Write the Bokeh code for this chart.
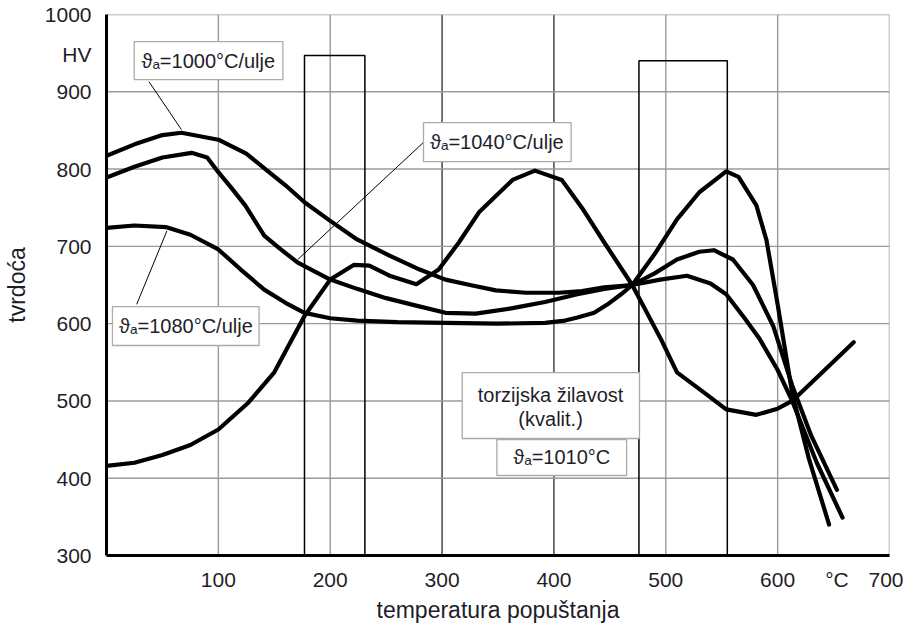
import math
from bokeh.plotting import figure
from bokeh.models import FixedTicker, Title
from bokeh.embed import file_html
from bokeh.resources import INLINE
from bokeh.core.properties import value

# ---------------- data ----------------
x_ticks = [100, 200, 300, 400, 500, 600, 653, 700]
x_tick_labels = {653: "°C"}
y_ticks = [300, 400, 500, 600, 700, 800, 900, 948, 1000]
y_tick_labels = {948: "HV"}

grid_x_light = [100, 200, 500, 600, 700]
grid_x_dark = [300, 400]
grid_y = [400, 500, 600, 700, 800, 900, 1000]

# qualitative bars (tempering ranges)
bar_left = [177, 476]
bar_right = [231, 555]
bar_top = [947, 940]

temp_1000 = [0, 25, 50, 67, 100, 125, 142, 160, 177, 200, 224, 253, 280, 303, 325, 348, 375, 404,
             425, 445, 470, 495, 519, 540, 554, 570, 584, 600, 613, 635, 658]
hv_1000 = [817, 832, 844, 847, 838, 820, 800, 779, 757, 733, 709, 688, 670, 657, 650, 643, 640, 640,
           642, 647, 650, 657, 662, 652, 638, 608, 580, 540, 500, 420, 349]

temp_1040 = [0, 25, 50, 76, 90, 100, 112, 124, 141, 155, 171, 200, 224, 250, 275, 303, 330, 363, 392,
             421, 445, 470, 490, 510, 530, 543, 560, 578, 596, 613, 630, 653]
hv_1040 = [789, 803, 815, 821, 815, 796, 775, 753, 714, 697, 679, 657, 645, 633, 624, 614, 613, 620, 628,
           638, 645, 650, 665, 683, 693, 695, 683, 650, 597, 520, 455, 385]

temp_1080 = [0, 25, 53, 75, 100, 120, 141, 160, 177, 200, 224, 260, 303, 350, 392, 410, 421, 436, 448,
             460, 470, 490, 510, 530, 554, 565, 581, 590, 600, 613, 628, 646]
hv_1080 = [724, 727, 725, 715, 696, 670, 644, 627, 614, 607, 604, 602, 601, 600, 601, 604, 608, 614, 625,
           638, 650, 690, 735, 770, 797, 790, 753, 708, 625, 510, 425, 340]

temp_tors = [0, 25, 50, 75, 100, 127, 150, 177, 200, 221, 235, 253, 277, 297, 315, 333, 363, 383, 407,
             425, 445, 470, 496, 510, 534, 554, 581, 600, 613, 640, 668]
val_tors = [416, 420, 430, 443, 463, 498, 537, 610, 657, 676, 675, 662, 651, 670, 705, 744, 786, 798, 786,
            750, 705, 650, 579, 537, 511, 489, 482, 490, 500, 537, 576]

# ---------------- figure ----------------
FONT = "Liberation Sans"
TXT = "#1e1e2a"

p = figure(width=903, height=627, x_range=(0, 700), y_range=(300, 1000),
           output_backend="svg", toolbar_location=None,
           min_border_left=99, min_border_right=14, min_border_top=14, min_border_bottom=72)
p.grid.visible = False
p.outline_line_color = None
p.background_fill_color = "white"

for ax in (p.xaxis, p.yaxis):
    ax.axis_line_width = 3
    ax.axis_line_color = "black"
    ax.major_tick_line_color = None
    ax.minor_tick_line_color = None
    ax.major_tick_in = 0
    ax.major_tick_out = 0
    ax.major_label_text_font = FONT
    ax.major_label_text_font_size = "21px"
    ax.major_label_text_color = TXT

p.xaxis.ticker = FixedTicker(ticks=x_ticks)
p.xaxis.major_label_overrides = x_tick_labels
p.xaxis.major_label_standoff = 12
p.yaxis.ticker = FixedTicker(ticks=y_ticks)
p.yaxis.major_label_overrides = y_tick_labels
p.yaxis.major_label_standoff = 15

p.yaxis.axis_label = "tvrdoća"
p.yaxis.axis_label_text_font = FONT
p.yaxis.axis_label_text_font_size = "23px"
p.yaxis.axis_label_text_font_style = "normal"
p.yaxis.axis_label_text_color = TXT
p.yaxis.axis_label_standoff = 12

p.add_layout(Title(text="temperatura popuštanja", align="center", offset=35, standoff=2,
                   text_font=FONT, text_font_size="23px", text_font_style="normal",
                   text_color=TXT), "below")

# grid
p.segment(x0=grid_x_light, y0=[300] * len(grid_x_light), x1=grid_x_light, y1=[1000] * len(grid_x_light),
          line_color="#9a9a9a", line_width=1.4)
p.segment(x0=grid_x_dark, y0=[300] * len(grid_x_dark), x1=grid_x_dark, y1=[1000] * len(grid_x_dark),
          line_color="#2a2a2a", line_width=1.3)
p.segment(x0=[0] * len(grid_y), y0=grid_y, x1=[700] * len(grid_y), y1=grid_y,
          line_color="#9a9a9a", line_width=1.4)

# bars
p.quad(left=bar_left, right=bar_right, bottom=[300] * len(bar_left), top=bar_top,
       fill_color=None, line_color="black", line_width=1.5)

# pointer lines
p.segment(x0=[38, 283, 27], y0=[913, 834, 625], x1=[67, 171, 54], y1=[851, 683, 720],
          line_color="black", line_width=1)

# curves
for xs, ys in ((temp_1000, hv_1000), (temp_1040, hv_1040), (temp_1080, hv_1080), (temp_tors, val_tors)):
    p.line(xs, ys, line_color="black", line_width=4.2, line_join="round", line_cap="round")

# label boxes
p.quad(left=[24.8, 283.4, 5.3, 318, 349], right=[157.7, 415.4, 136.4, 476.5, 465],
       bottom=[915.8, 809.7, 571.7, 451.4, 403.5], top=[964.9, 860, 622, 536.7, 450],
       fill_color="white", line_color="#ababab", line_width=1.3)

p.text(x=[91, 349, 71, 397, 397, 407],
       y=[940, 835, 597, 508, 476, 427],
       text=["ϑₐ=1000°C/ulje", "ϑₐ=1040°C/ulje", "ϑₐ=1080°C/ulje",
             "torzijska žilavost", "(kvalit.)", "ϑₐ=1010°C"],
       text_font=value(FONT), text_font_size="20px", text_color=TXT,
       text_align="center", text_baseline="middle")

open("out.html", "w").write(file_html(p, INLINE))
